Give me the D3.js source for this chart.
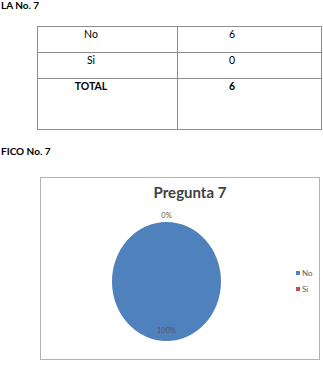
<!DOCTYPE html>
<html><head><meta charset="utf-8">
<script src="https://cdn.jsdelivr.net/npm/d3@7"></script>
<style>body{margin:0;background:#fff}svg{display:block}</style>
</head><body>
<script>
const categories = ["No", "Si"];
const values = [6, 0];
const totalLabel = "TOTAL";
const totalValue = 6;
const chartTitle = "Pregunta 7";
const colors = ["#4F81BD", "#C0504D"];

const W = 323, H = 368, FONT = "Lato, 'Open Sans', sans-serif";
const svg = d3.select("body").append("svg").attr("width", W).attr("height", H)
  .style("font-family", FONT);

// headings
svg.append("text").attr("x", 1).attr("y", 9).attr("font-size", 10).attr("font-weight", "bold")
  .attr("fill", "#000").text("LA No. 7");
svg.append("text").attr("x", 1).attr("y", 155).attr("font-size", 10).attr("font-weight", "bold")
  .attr("fill", "#000").text("FICO  No. 7");

// table
const rows = categories.map((c, i) => ({a: c, b: String(values[i]), bold: false}))
  .concat([{a: totalLabel, b: String(totalValue), bold: true}]);
const tX0 = 37, tX1 = 177, tX2 = 321;
const rowY = [26, 52, 78, 129];
const tg = svg.append("g").attr("stroke", "#8c8c8c").attr("stroke-width", 1).attr("fill", "none");
tg.append("rect").attr("x", tX0 + 0.5).attr("y", rowY[0] + 0.5).attr("width", tX2 - tX0).attr("height", rowY[3] - rowY[0]);
tg.append("line").attr("x1", tX1 + 0.5).attr("x2", tX1 + 0.5).attr("y1", rowY[0]).attr("y2", rowY[3]);
[rowY[1], rowY[2]].forEach(y => tg.append("line").attr("x1", tX0).attr("x2", tX2).attr("y1", y + 0.5).attr("y2", y + 0.5));
rows.forEach((r, i) => {
  svg.append("text").attr("x", 91).attr("y", rowY[i] + 11.5).attr("text-anchor", "middle")
    .attr("font-size", 10.5).attr("font-weight", r.bold ? "bold" : "normal").attr("fill", "#000").text(r.a);
  svg.append("text").attr("x", 229).attr("y", rowY[i] + 11.5)
    .attr("font-size", 10.5).attr("font-weight", r.bold ? "bold" : "normal").attr("fill", "#000").text(r.b);
});

// chart box
svg.append("rect").attr("x", 40.5).attr("y", 177.5).attr("width", 279).attr("height", 182)
  .attr("fill", "#fff").attr("stroke", "#b3b3b3");
svg.append("text").attr("x", 190).attr("y", 198).attr("text-anchor", "middle")
  .attr("font-size", 15).attr("font-weight", "bold").attr("fill", "#404040").text(chartTitle);

// pie
const cx = 166.5, cy = 281.5, r = 54.5, sy = 59.5 / 54.5;
const pie = d3.pie().sort(null).value(d => d)(values);
const arc = d3.arc().innerRadius(0).outerRadius(r);
const pg = svg.append("g").attr("transform", `translate(${cx},${cy}) scale(1,${sy})`);
pg.selectAll("path").data(pie).join("path").attr("d", arc).attr("fill", (d, i) => colors[i]);

const total = d3.sum(values);
const fmt = v => Math.round(v / total * 100) + "%";
pie.forEach((d, i) => {
  const mid = (d.startAngle + d.endAngle) / 2;
  const rr = d.value === 0 ? r * 1.12 : r * 0.82;
  const x = cx + rr * Math.sin(mid), y = cy - rr * Math.cos(mid) * sy;
  svg.append("text").attr("x", x).attr("y", y + 3).attr("text-anchor", "middle")
    .attr("font-size", 7.5).attr("fill", "#595959").text(fmt(d.value));
});

// legend
const lg = svg.append("g");
categories.forEach((c, i) => {
  const y = 273 + i * 16;
  lg.append("rect").attr("x", 296).attr("y", y - 2).attr("width", 4).attr("height", 4).attr("fill", colors[i]);
  lg.append("text").attr("x", 302).attr("y", y + 3).attr("font-size", 8).attr("fill", "#595959").text(c);
});
</script>
</body></html>
